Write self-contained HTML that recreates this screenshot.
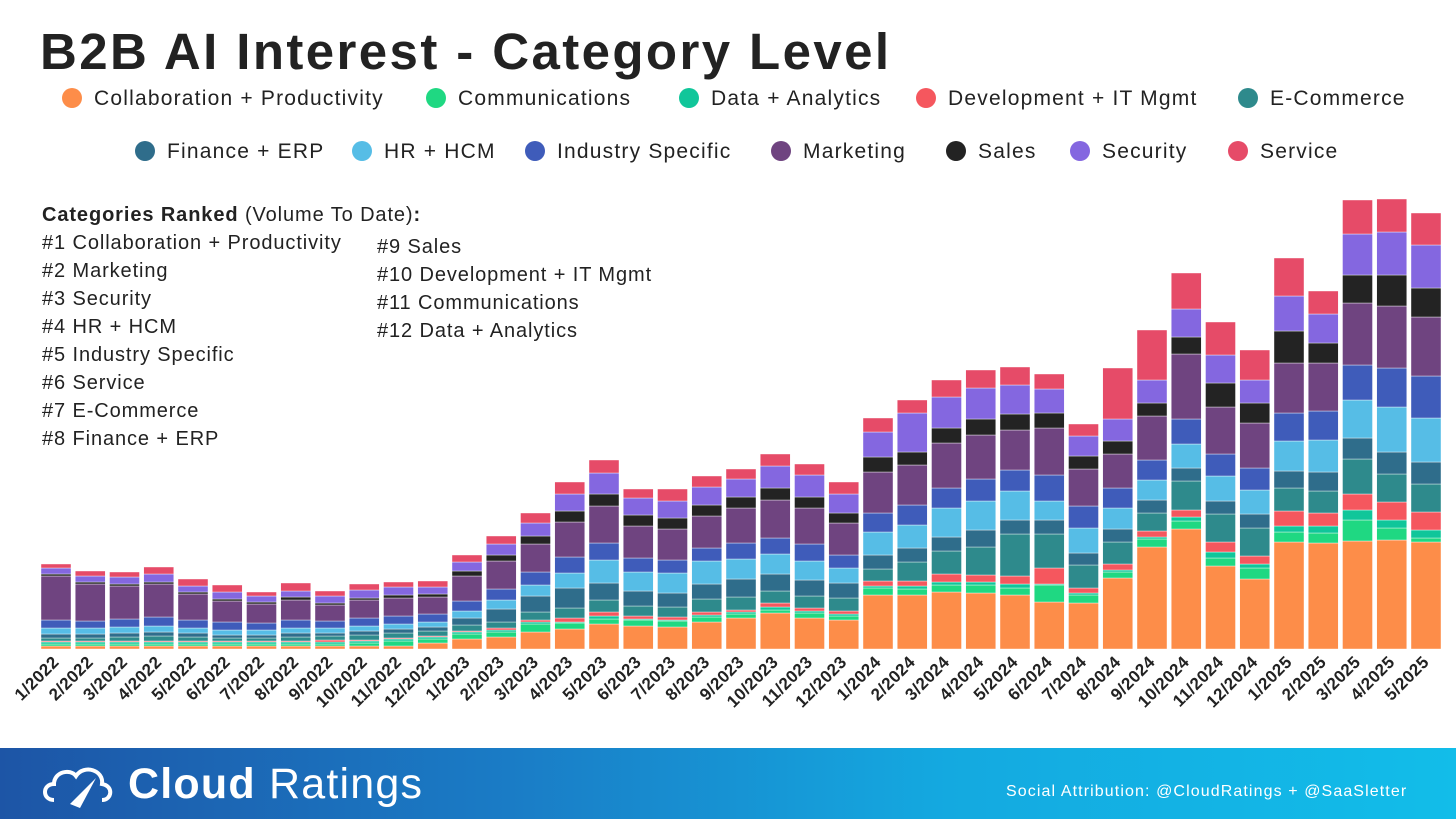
<!DOCTYPE html>
<html><head><meta charset="utf-8">
<style>
html,body{margin:0;padding:0;width:1456px;height:819px;overflow:hidden;background:#fff;font-family:"Liberation Sans",sans-serif;}
#wrap{position:relative;width:1456px;height:819px;}
#title{position:absolute;left:40px;top:22px;font-size:51px;font-weight:bold;color:#222;letter-spacing:2.4px;white-space:nowrap;}
.leg{position:absolute;font-size:21px;letter-spacing:1.2px;color:#222;white-space:nowrap;line-height:24px;}
.leg .dot{display:inline-block;width:20px;height:20px;border-radius:50%;vertical-align:-3px;margin-right:12px;}
.rank{position:absolute;font-size:20px;letter-spacing:0.9px;color:#222;white-space:nowrap;line-height:28px;}
#footer{position:absolute;left:0;top:748px;width:1456px;height:71px;background:linear-gradient(90deg,#1d55a6 0%,#1a7cc6 35%,#14a9e0 65%,#12bde9 100%);}
</style></head><body>
<div id="wrap">
<div id="title">B2B AI Interest - Category Level</div>
<div id="legend"></div>
<div class="rank" style="left:42px;top:201px;">
<b>Categories Ranked</b> (Volume To Date)<b>:</b><br>#1 Collaboration + Productivity<br>#2 Marketing<br>#3 Security<br>#4 HR + HCM<br>#5 Industry Specific<br>#6 Service<br>#7 E-Commerce<br>#8 Finance + ERP</div>
<div class="rank" style="left:377px;top:233px;">#9 Sales<br>#10 Development + IT Mgmt<br>#11 Communications<br>#12 Data + Analytics</div>
<svg id="chart" width="1456" height="748" style="position:absolute;left:0;top:0"></svg>
<div id="footer">
<svg width="80" height="60" style="position:absolute;left:40px;top:8px">
<path d="M14 44 C2 44 2 28 14 28 C14 16 30 12 36 20 C44 8 64 14 62 28 C74 30 72 44 62 44" fill="none" stroke="#fff" stroke-width="4"/>
<path d="M30 48 L56 22 L40 52 Z" fill="#fff"/>
</svg>
<div style="position:absolute;left:128px;top:12px;color:#fff;font-size:43px;letter-spacing:1.2px;white-space:nowrap;"><b>Cloud</b> Ratings</div>
<div style="position:absolute;left:1006px;top:35px;color:#fff;font-size:16px;letter-spacing:1.1px;white-space:nowrap;">Social Attribution: @CloudRatings + @SaaSletter</div>
</div>
</div>
<script>
const months = ["1/2022","2/2022","3/2022","4/2022","5/2022","6/2022","7/2022","8/2022","9/2022","10/2022","11/2022","12/2022","1/2023","2/2023","3/2023","4/2023","5/2023","6/2023","7/2023","8/2023","9/2023","10/2023","11/2023","12/2023","1/2024","2/2024","3/2024","4/2024","5/2024","6/2024","7/2024","8/2024","9/2024","10/2024","11/2024","12/2024","1/2025","2/2025","3/2025","4/2025","5/2025"];
const seriesNames = ["Collaboration + Productivity","Communications","Data + Analytics","Development + IT Mgmt","E-Commerce","Finance + ERP","HR + HCM","Industry Specific","Marketing","Sales","Security","Service"];
const seriesColors = ["#fd8d49","#1fd882","#10c69a","#f5575e","#2e8a8c","#2f6d8b","#56bde6","#3f5cba","#6f4480","#232323","#8467e0","#e64b68"];
const collab = [3,3,3,3,3,3,3,3,3,3,3,6,10,12,17,20,25,23,22,27,31,36,31,29,54,54,57,56,54,47,46,71,102,120,83,70,107,106,108,109,107];
const comms = [2,2,2,2,2,2,2,2,2,3,5,4,5,5,8,6,5,6,6,5,4,3,5,4,7,6,7,8,7,17,8,6,8,8,8,11,10,10,21,12,4];
const dataAn = [2,2,2,2,2,2,2,2,2,2,2,2,2,2,2,1,3,1,1,2,2,3,2,2,2,3,3,3,4,1,2,2,2,4,6,4,6,7,10,8,8];
const devIT = [1,1,1,1,1,1,1,1,2,1,1,1,1,2,2,4,4,3,3,3,2,4,3,3,5,5,8,7,8,16,5,6,6,7,10,8,15,13,16,18,18];
const ecom = [3,3,4,5,4,3,3,4,4,5,5,5,6,6,8,10,12,10,10,13,13,12,12,13,12,19,23,28,42,34,23,22,18,29,28,28,23,22,35,28,28];
const finance = [4,4,4,4,4,3,3,4,3,4,4,4,7,13,16,20,17,15,14,15,18,17,16,15,14,14,14,17,14,14,12,13,13,13,13,14,17,19,21,22,22];
const hr = [6,6,6,6,5,5,5,5,5,5,5,5,7,9,11,15,23,19,20,23,20,20,19,15,23,23,29,29,29,19,25,21,20,24,25,24,30,32,38,45,44];
const industry = [8,7,8,9,8,8,7,8,7,8,8,8,10,11,13,16,17,14,13,13,16,16,17,13,19,20,20,22,21,26,22,20,20,25,22,22,28,29,35,39,42];
const marketing = [44,37,33,33,26,21,19,20,16,18,18,17,25,28,28,35,37,32,31,32,35,38,36,32,41,40,45,44,40,47,37,34,44,65,47,45,50,48,62,62,59];
const sales = [2,2,2,2,2,2,2,3,2,2,3,3,5,6,8,11,12,11,11,11,11,12,11,10,15,13,15,16,16,15,13,13,13,17,24,20,32,20,28,31,29];
const security = [6,6,7,8,6,7,6,6,7,8,8,7,9,11,13,17,21,17,17,18,18,22,22,19,25,39,31,31,29,24,20,22,23,28,28,23,35,29,41,43,43];
const service = [4,5,5,7,7,7,4,8,5,6,5,6,7,8,10,12,13,9,12,11,10,12,11,12,14,13,17,18,18,15,12,51,50,36,33,30,38,23,34,33,32];
const allSeries = [collab,comms,dataAn,devIT,ecom,finance,hr,industry,marketing,sales,security,service];

const NS="http://www.w3.org/2000/svg";
const svg=document.getElementById('chart');
const baseY=649, x0=41, pitch=34.25, bw=30, pxPerUnit=1;
function xScale(i){return x0+i*pitch;}
function yScale(v){return baseY-v*pxPerUnit;}

const legendPos=[[62,87],[426,87],[679,87],[916,87],[1238,87],[135,140],[352,140],[525,140],[771,140],[946,140],[1070,140],[1228,140]];
const legend=document.getElementById('legend');
seriesNames.forEach((n,k)=>{
  const d=document.createElement('div');
  d.className='leg';
  d.style.left=legendPos[k][0]+'px';d.style.top=legendPos[k][1]+'px';
  
  
  const s=document.createElement('span');s.className='dot';s.style.background=seriesColors[k];
  
  
  d.appendChild(s);d.appendChild(document.createTextNode(n));
  legend.appendChild(d);
});

months.forEach((m,i)=>{
  let cum=0;
  const x=xScale(i);
  allSeries.forEach((arr,k)=>{
    const v=arr[i];
    const r=document.createElementNS(NS,'rect');
    r.setAttribute('x',x);r.setAttribute('width',bw);
    r.setAttribute('y',yScale(cum+v));r.setAttribute('height',Math.max(0,v*pxPerUnit));
    r.setAttribute('fill',seriesColors[k]);
    r.setAttribute('stroke','#ffffff');r.setAttribute('stroke-width','0.4');
    
    
    svg.appendChild(r);
    cum+=v;
  });
  const t=document.createElementNS(NS,'text');
  const cx=x+bw/2+4, cy=663;
  t.setAttribute('x',cx);t.setAttribute('y',cy);
  t.setAttribute('text-anchor','end');
  t.setAttribute('transform','rotate(-45 '+cx+' '+cy+')');
  t.setAttribute('font-size','17');t.setAttribute('font-weight','bold');
  t.setAttribute('letter-spacing','0.4');
  t.setAttribute('fill','#222');t.setAttribute('font-family','Liberation Sans, sans-serif');
  
  
  t.textContent=m;
  svg.appendChild(t);
});
</script>
</body></html>
